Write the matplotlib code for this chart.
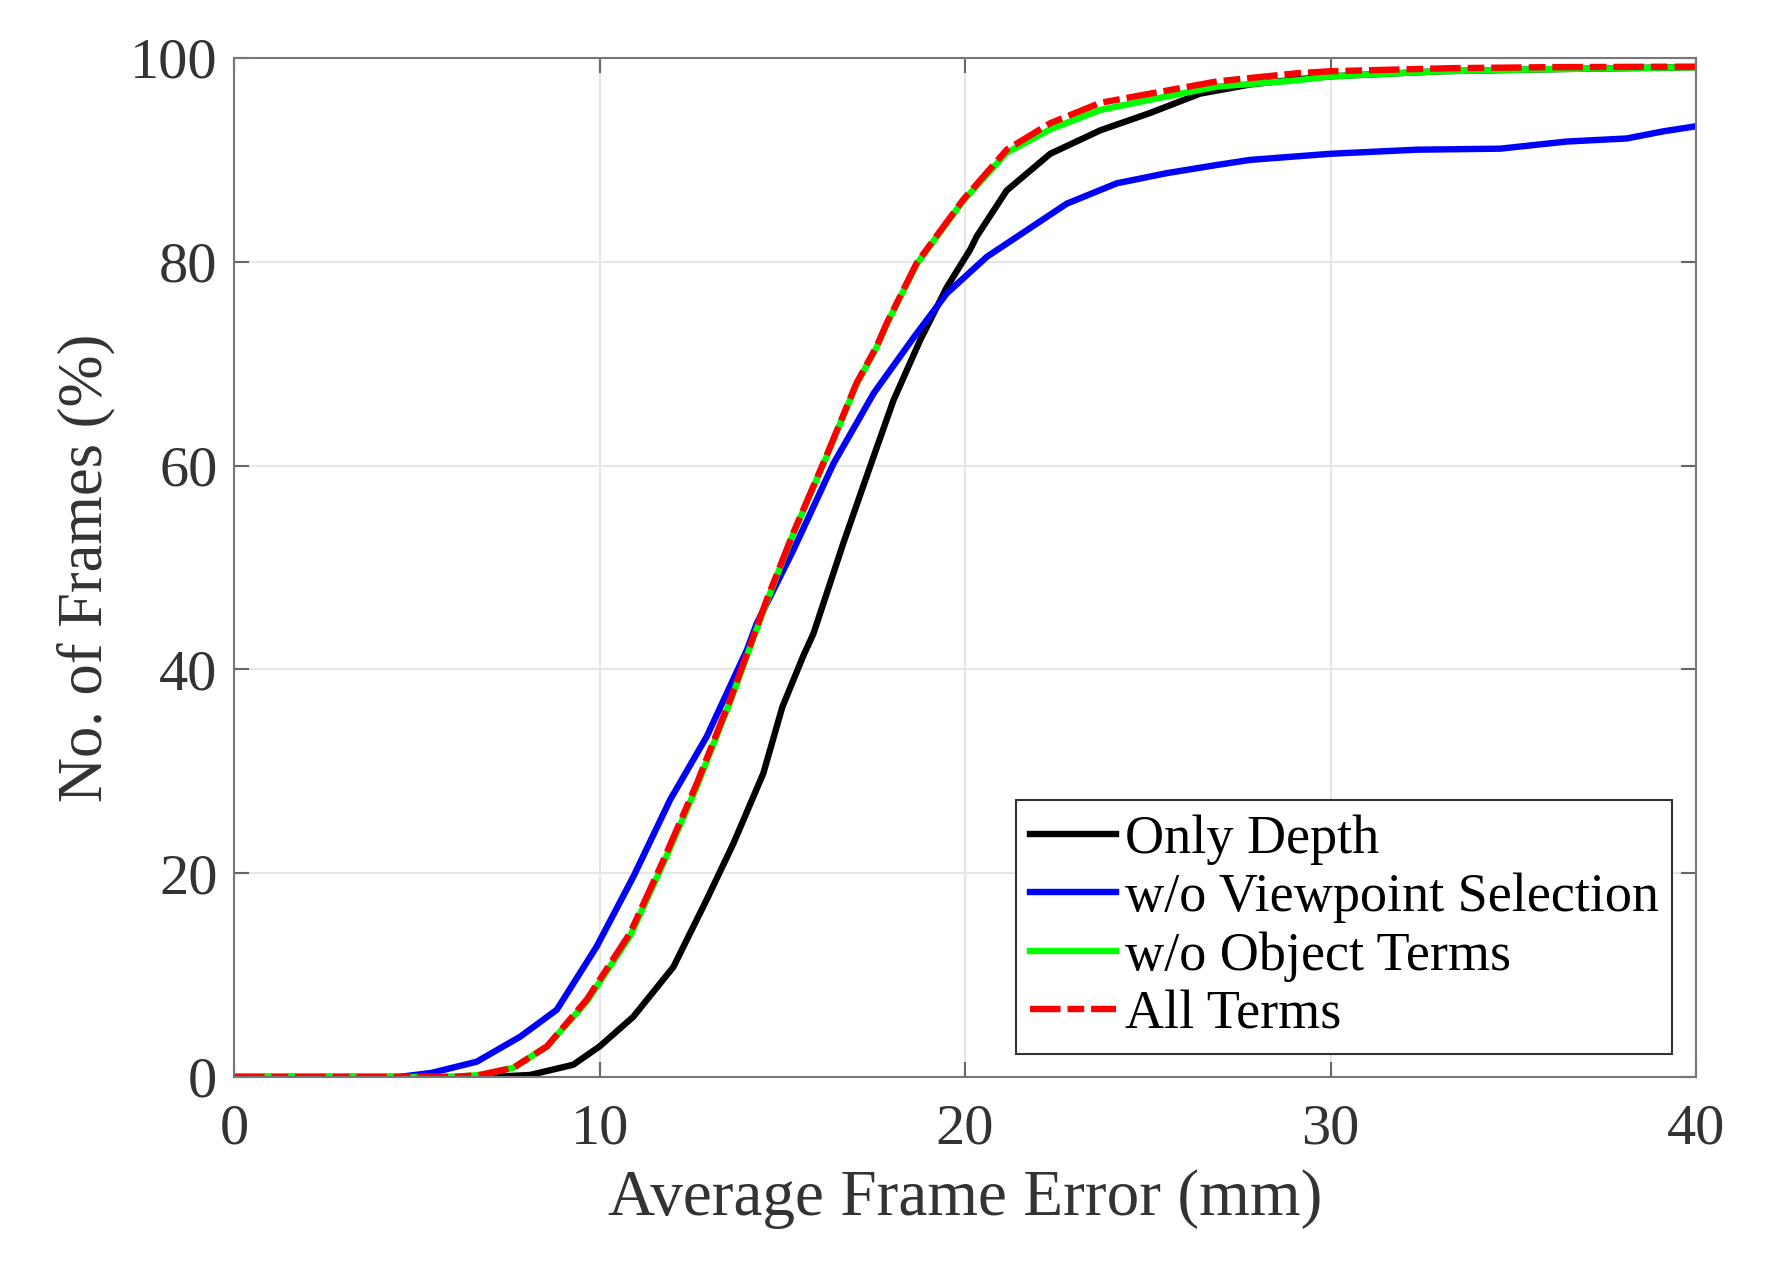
import matplotlib
matplotlib.use('Agg')
import matplotlib.pyplot as plt

plt.rcParams['font.family'] = ['Liberation Serif', 'DejaVu Serif']
plt.rcParams['lines.scale_dashes'] = False

# Only Depth
depth_x = [0, 7.0, 8.1, 9.28, 10.0, 10.92, 12.02, 12.93, 13.66, 14.48, 15.0, 15.57, 15.85,
           16.67, 17.40, 18.04, 18.77, 19.5, 20.14, 20.32, 21.14, 22.33, 23.7, 25.06, 26.43,
           27.8, 29.07, 30, 33, 36, 40]
depth_y = [0, 0, 0.2, 1.2, 3.0, 5.9, 10.8, 17.4, 22.9, 29.8, 36.3, 41.3, 43.5,
           52.4, 59.9, 66.4, 72.3, 77.5, 81.2, 82.5, 87.0, 90.6, 92.9, 94.6, 96.5,
           97.4, 97.9, 98.2, 98.7, 98.9, 99.1]

# w/o Viewpoint Selection
view_x = [0, 4.5, 5.4, 6.64, 7.83, 8.83, 9.92, 10.93, 11.93, 12.93, 14.03, 14.3, 15.3,
          16.4, 17.5, 18.6, 19.5, 20.6, 21.69, 22.78, 24.15, 25.52, 26.89, 27.8, 30.0,
          32.36, 34.64, 36.46, 38.1, 39.1, 40]
view_y = [0, 0, 0.4, 1.5, 3.96, 6.6, 12.8, 19.7, 27.2, 33.4, 41.9, 44.5, 51.7,
          60.2, 67.1, 72.6, 76.9, 80.5, 83.1, 85.7, 87.7, 88.7, 89.5, 90.0, 90.6,
          91.0, 91.1, 91.8, 92.1, 92.8, 93.3]

# w/o Object Terms
obj_x = [0, 6.0, 6.73, 7.64, 8.56, 9.65, 10.83, 11.75, 12.66, 13.57, 14.57, 15.3, 16.2,
         17.03, 17.58, 17.86, 18.68, 19.95, 21.14, 22.33, 23.7, 25.06, 26.89, 29.07, 30,
         33, 36, 40]
obj_y = [0, 0, 0.2, 0.9, 3.0, 7.4, 13.8, 21.0, 28.5, 36.8, 46.6, 53.3, 60.8,
         68.0, 71.6, 73.9, 79.8, 86.0, 90.7, 93.0, 94.9, 95.9, 97.2, 97.8, 98.2,
         98.7, 98.9, 99.1]

# All Terms
all_x = [0, 6.0, 6.73, 7.64, 8.56, 9.65, 10.83, 11.75, 12.66, 13.57, 14.57, 15.3, 16.2,
         17.03, 17.58, 17.86, 18.68, 19.95, 21.14, 22.33, 23.7, 25.06, 26.89, 29.07, 30,
         33.27, 36, 40]
all_y = [0, 0, 0.2, 0.9, 3.0, 7.6, 14.1, 21.3, 28.8, 37.0, 46.8, 53.4, 60.9,
         68.1, 71.7, 74.0, 79.9, 86.1, 91.0, 93.6, 95.6, 96.5, 97.7, 98.5, 98.7,
         99.0, 99.1, 99.15]

labels = ['Only Depth', 'w/o Viewpoint Selection', 'w/o Object Terms', 'All Terms']
xticks = [0, 10, 20, 30, 40]
yticks = [0, 20, 40, 60, 80, 100]

fig = plt.figure(figsize=(17.76, 12.66), dpi=100)
ax = fig.add_axes([0.1318, 0.1493, 0.8232, 0.8049])

lw = 4.6
ax.plot(depth_x, depth_y, color='black', lw=lw, label=labels[0])
ax.plot(view_x, view_y, color='#0000ff', lw=lw, label=labels[1])
ax.plot(obj_x, obj_y, color='#00ff00', lw=lw, label=labels[2])
ax.plot(all_x, all_y, color='#ff0000', lw=lw, label=labels[3],
        linestyle=(0, (22, 5, 12, 5)))

ax.set_xlim(0, 40)
ax.set_ylim(0, 100)
ax.set_xticks(xticks)
ax.set_yticks(yticks)
ax.grid(True, color='#e6e6e6', lw=1.5)
ax.set_axisbelow(True)

for s in ax.spines.values():
    s.set_color('#777777')
    s.set_linewidth(1.5)
ax.tick_params(direction='in', length=11, width=1.5, color='#666666',
               top=True, right=True, labelsize=42, labelcolor='#333333')
ax.tick_params(axis='x', pad=19)
ax.tick_params(axis='y', pad=12)

ax.set_xlabel('Average Frame Error (mm)', fontsize=47, color='#333333', labelpad=10)
ax.set_ylabel('No. of Frames (%)', fontsize=45, color='#333333', labelpad=10)

leg = ax.legend(loc='lower right', bbox_to_anchor=(0.9836, 0.0226), borderaxespad=0,
                fontsize=39, fancybox=False, framealpha=1, edgecolor='#333333',
                handlelength=1.6, handletextpad=0.15, borderpad=0.25, labelspacing=0.15)
leg.get_frame().set_linewidth(1.5)

plt.savefig('out.png', dpi=100)
